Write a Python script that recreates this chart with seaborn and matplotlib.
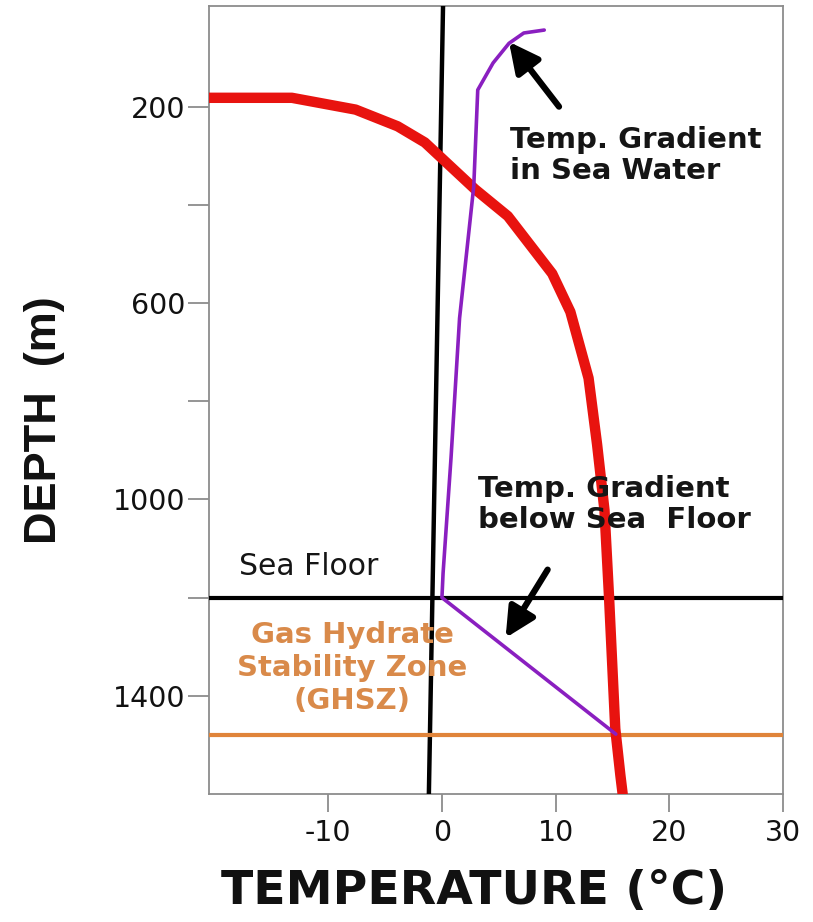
import numpy as np
import pandas as pd
import matplotlib
matplotlib.use('Agg')
import matplotlib.pyplot as plt
import seaborn as sns

# --- Data ---
# Red curve: hydrate stability (phase boundary) temperature vs depth
phase_temp = [-21.0, -13.2, -7.6, -3.9, -1.5, 2.9, 5.8, 9.7, 11.3, 12.9, 13.65, 14.3, 14.7, 15.25, 15.7, 15.9]
phase_depth = [182, 182, 206, 240, 273, 368, 423, 540, 618, 753, 888, 1022, 1198, 1467, 1562, 1600]

# Purple curve: temperature in sea water, then below sea floor
grad_temp = [9.0, 7.2, 5.9, 4.5, 3.15, 2.8, 1.55, 0.8, 0.1, 0.0, 15.3]
grad_depth = [44, 50, 71, 111, 166, 362, 631, 915, 1150, 1200, 1478]

# Black near-vertical line (0 °C reference)
zero_temp = [0.1, -1.15]
zero_depth = [-10, 1600]

sea_floor_depth = 1200
ghsz_base_depth = 1480

x_ticks = [-10, 0, 10, 20, 30]
y_major = [200, 600, 1000, 1400]
y_minor = [400, 800, 1200]

phase_df = pd.DataFrame({'temp': phase_temp, 'depth': phase_depth})
grad_df = pd.DataFrame({'temp': grad_temp, 'depth': grad_depth})
zero_df = pd.DataFrame({'temp': zero_temp, 'depth': zero_depth})

sns.set_style("white")
plt.rcParams['font.family'] = ['DejaVu Sans']

fig = plt.figure(figsize=(8.13, 9.22), dpi=100)
ax = fig.add_axes([0.257, 0.1388, 0.706, 0.8547])

sns.lineplot(data=zero_df, x='temp', y='depth', sort=False, estimator=None,
             color='black', lw=3.2, ax=ax, zorder=3)
ax.axhline(sea_floor_depth, color='black', lw=3, zorder=3)
ax.axhline(ghsz_base_depth, color='#E0843A', lw=3, zorder=3)
sns.lineplot(data=phase_df, x='temp', y='depth', sort=False, estimator=None,
             color='#E8130F', lw=7.5, ax=ax, zorder=4)
sns.lineplot(data=grad_df, x='temp', y='depth', sort=False, estimator=None,
             color='#8A1FC0', lw=2.6, ax=ax, zorder=5)

ax.set_xlim(-20.5, 30)
ax.set_ylim(1600, -5)

ax.set_xticks(x_ticks)
ax.set_xticklabels([str(v) for v in x_ticks])
ax.set_yticks(y_major)
ax.set_yticklabels([str(v) for v in y_major])
ax.set_yticks(y_minor, minor=True)

for s in ax.spines.values():
    s.set_color('#8c8c8c')
    s.set_linewidth(1.3)
ax.tick_params(axis='both', which='both', direction='out', color='#8c8c8c',
               width=1.3, labelsize=20.5, labelcolor='#111111',
               left=True, bottom=True)
ax.tick_params(axis='y', which='both', length=15, pad=2)
ax.tick_params(axis='x', which='both', length=13, pad=5)

ax.set_xlabel('TEMPERATURE (°C)', fontsize=34, fontweight='bold', color='#111111')
ax.set_ylabel('DEPTH  (m)', fontsize=32.5, fontweight='bold', color='#111111',
              family=['Liberation Sans', 'DejaVu Sans'])
ax.xaxis.set_label_coords(0.4626, -0.095)
ax.yaxis.set_label_coords(-0.25, 0.475)

# annotations
ax.text(6.0, 300, 'Temp. Gradient\nin Sea Water', fontsize=21, fontweight='bold',
        va='center', ha='left', color='#151515', linespacing=1.14, zorder=6)
ax.text(3.15, 1011, 'Temp. Gradient\nbelow Sea  Floor', fontsize=21, fontweight='bold',
        va='center', ha='left', color='#151515', linespacing=1.14, zorder=6)
ax.text(-17.85, 1137, 'Sea Floor', fontsize=21.5, va='center', ha='left',
        color='#151515', zorder=6)
ax.text(-7.9, 1343, 'Gas Hydrate\nStability Zone\n(GHSZ)', fontsize=21,
        fontweight='bold', va='center', ha='center', color='#D98A4A',
        linespacing=1.24, zorder=6)

arrow_kw = dict(arrowstyle='-|>', lw=4.5, color='black', mutation_scale=45,
                shrinkA=0, shrinkB=0)
ax.annotate('', xy=(5.9, 68), xytext=(10.3, 200), arrowprops=arrow_kw, zorder=7)
ax.annotate('', xy=(5.6, 1282), xytext=(9.3, 1143), arrowprops=arrow_kw, zorder=7)

fig.savefig('out.png', dpi=100)
